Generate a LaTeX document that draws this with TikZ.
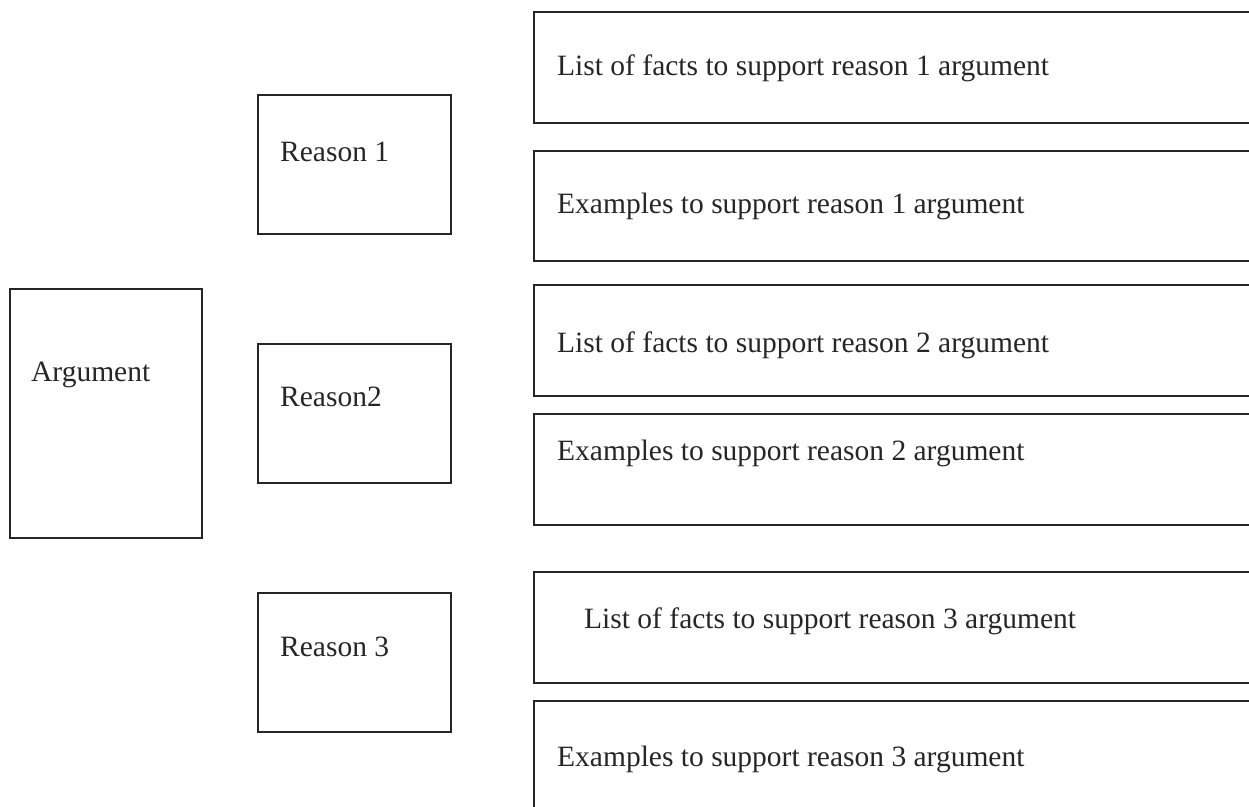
\documentclass[tikz,border=0pt]{standalone}
\usepackage{fontspec}
\setmainfont{Liberation Serif}
\begin{document}
\begin{tikzpicture}[x=1pt,y=-1pt,
  box/.style={draw=black!85,line width=2.8pt,rectangle,inner sep=0pt,outer sep=0pt,anchor=north west},
  txt/.style={anchor=base west,inner sep=0pt,font=\fontsize{29.5}{33}\selectfont,text=black!85}]
\useasboundingbox (0,0) rectangle (1249,806);
\clip (0,0) rectangle (1249,806);
% left column
\node[box,minimum width=192pt,minimum height=249pt] (arg) at (10,289) {};
\node[txt] (argt) at (31,381) {Argument};
% reasons
\node[box,minimum width=193pt,minimum height=139pt] (r1) at (258,95) {};
\node[txt] (r1t) at (280,161) {Reason 1};
\node[box,minimum width=193pt,minimum height=139pt] (r2) at (258,344) {};
\node[txt] (r2t) at (280,406) {Reason2};
\node[box,minimum width=193pt,minimum height=139pt] (r3) at (258,593) {};
\node[txt] (r3t) at (280,656) {Reason 3};
% support boxes
\node[box,minimum width=760pt,minimum height=111pt] (f1) at (534,12) {};
\node[txt] (f1t) at (557,75) {List of facts to support reason 1 argument};
\node[box,minimum width=760pt,minimum height=110pt] (e1) at (534,151) {};
\node[txt] (e1t) at (557,213) {Examples to support reason 1 argument};
\node[box,minimum width=760pt,minimum height=111pt] (f2) at (534,285) {};
\node[txt] (f2t) at (557,352) {List of facts to support reason 2 argument};
\node[box,minimum width=760pt,minimum height=111pt] (e2) at (534,414) {};
\node[txt] (e2t) at (557,460) {Examples to support reason 2 argument};
\node[box,minimum width=760pt,minimum height=111pt] (f3) at (534,572) {};
\node[txt] (f3t) at (584,628) {List of facts to support reason 3 argument};
\node[box,minimum width=760pt,minimum height=140pt] (e3) at (534,701) {};
\node[txt] (e3t) at (557,766) {Examples to support reason 3 argument};
\end{tikzpicture}
\end{document}
